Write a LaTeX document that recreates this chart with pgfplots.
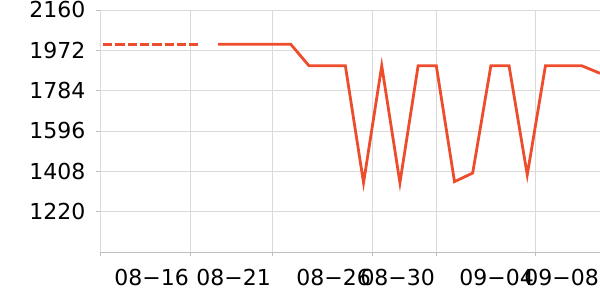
\documentclass[border=0pt]{standalone}
\usepackage{fontspec}
\setmainfont{DejaVu Sans}
\usepackage{pgfplots}
\pgfplotsset{compat=1.18}
\definecolor{lineRed}{RGB}{238,77,45}
\definecolor{gridGray}{RGB}{218,218,218}
\definecolor{axisGray}{RGB}{190,190,190}
\begin{document}
\begin{tikzpicture}
\begin{axis}[
  scale only axis,
  width=500bp, height=242bp,
  xmin=-6.49, xmax=21,
  ymin=1032, ymax=2160,
  xtick={-6.49,-1.54,2.97,8.47,11.99,17.43,21},
  xticklabels={,08−16,08−21,08−26,08−30,09−04,09−08},
  ytick={1220,1408,1596,1784,1972,2160},
  /pgf/number format/assume math mode=true,
  /pgf/number format/1000 sep={},
  xmajorgrids, ymajorgrids,
  major grid style={draw=gridGray, line width=0.8bp},
  axis x line*=bottom,
  axis y line*=left,
  x axis line style={draw=axisGray, line width=1bp, -},
  y axis line style={draw=gridGray, line width=0.8bp, -},
  tick align=outside,
  major tick length=3.5bp,
  every tick/.style={draw=axisGray, line width=0.8bp},
  tick label style={font=\fontsize{22bp}{26bp}\selectfont, text=black},
  xticklabel style={anchor=base east, inner sep=0pt, yshift=-30bp, xshift=-1bp},
  yticklabel style={anchor=base east, inner sep=0pt, xshift=-11bp, yshift=-8bp},
  clip=true,
]
\addplot[lineRed, line width=2.8bp, dash pattern=on 9.3bp off 3bp, line join=miter] coordinates {
  (-7,2000) (-6,2000) (-5,2000) (-4,2000) (-3,2000) (-2,2000) (-1,2000)
};
\addplot[lineRed, line width=2.8bp, line join=miter] coordinates {
  (0,2000) (1,2000) (2,2000) (3,2000) (4,2000)
  (5,1900) (6,1900) (7,1900) (8,1355) (9,1900)
  (10,1355) (11,1900) (12,1900) (13,1360) (14,1400)
  (15,1900) (16,1900) (17,1392) (18,1900) (19,1900)
  (20,1900) (21,1865)
};
\end{axis}
\pgfresetboundingbox
\path (-100bp,-48bp) rectangle (500bp,252bp);
\end{tikzpicture}
\end{document}
